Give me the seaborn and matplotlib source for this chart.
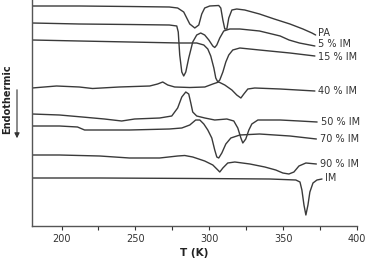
import matplotlib

matplotlib.use("Agg")

import matplotlib.pyplot as plt
import pandas as pd
import seaborn as sns

LINE_COLOR = "#3a3a3a"

# DSC traces: temperature (K) and heat flow (arb. units, endo down)
PA_T = [180, 212, 246, 273, 278.6, 282.7, 286.8, 290.2, 292.9, 294.9, 296.9, 300.3, 306.4,
        307.8, 309.2, 310.5, 311.9, 313.2, 315.3, 318.6, 324, 334, 344, 354.6, 363.4, 369.5, 372]
PA_Q = [220, 220, 219.5, 219, 218, 214, 202, 198, 201, 212, 218, 220, 220.5,
        218, 206, 197, 197, 208, 216, 217, 216, 212, 207, 202, 197, 193, 191]

IM5_T = [180, 212, 246, 273, 278, 279, 280, 281.4, 282.7, 284.1, 286.1, 288.8, 291.5, 294.2,
         296.9, 299.7, 302.4, 303.7, 305.1, 307.1, 309.8, 313.9, 320.7, 334, 348, 354, 361, 371.5]
IM5_Q = [203, 202, 201.5, 201, 200, 194, 171, 154, 150, 154, 168, 184, 191, 193,
         191, 186, 180, 178.5, 181, 188, 195, 197, 197, 195, 190, 186, 183, 180]

IM15_T = [180, 212, 246, 280, 291.5, 296.3, 299, 301, 303.1, 304.4, 305.8, 307.1, 309.2,
          311.2, 313.2, 315.9, 320.7, 334, 354.6, 371.5]
IM15_Q = [186, 185, 184, 183, 183, 181, 177, 170, 158, 148, 144, 146, 154,
          164, 171, 176, 178, 176, 173, 170]

IM40_T = [180, 196.6, 212, 221, 239, 259.7, 265, 268.5, 271.9, 276.6, 286.8, 297, 302.4,
          306.4, 310.5, 315.3, 318.6, 321.4, 323.4, 326.1, 330.8, 348, 371.5]
IM40_Q = [138, 140, 139, 137.5, 139, 140, 142, 144, 141, 139, 138.5, 139, 142,
          144, 141, 136, 131, 128, 132, 137, 138, 137, 135]

IM50_T = [180, 198.6, 214, 229, 240.7, 249.5, 266.4, 274.6, 278.6, 281.4, 284.1, 286.1, 287.5,
          288.8, 291.5, 297, 303.7, 311.9, 316.6, 319.3, 321.4, 322.7, 324.7, 326.8, 328.8,
          332.9, 348, 361, 373]
IM50_Q = [112, 111, 109, 107, 105, 107, 108, 110, 118, 129, 134, 132, 123,
          114, 110, 108, 106, 107, 105, 98, 88, 83, 87, 96, 102,
          106, 106, 105, 104]

IM70_T = [180, 198.6, 210.8, 215.6, 225.8, 246, 273, 281.4, 286.8, 290.8, 293.6, 296.3, 299,
          301.7, 303.7, 305.1, 306.4, 308.5, 311.2, 314.6, 320.7, 334, 354.6, 372.5]
IM70_Q = [100, 100, 99, 96, 96, 96, 97, 98, 101, 106, 106, 102, 96,
          88, 76, 69, 68, 73, 82, 88, 91, 92, 90, 87]

IM90_T = [180, 198.6, 225.8, 246, 266.4, 278.6, 283.4, 288.8, 296.9, 302.4, 305.8, 307.1, 309.2,
          312.5, 317.3, 327.5, 337.6, 345, 349.8, 353.9, 357.3, 360.7, 365.4, 372.5]
IM90_Q = [71, 71, 70, 68, 68, 70, 70.5, 69, 65, 61, 56, 54, 58,
          63, 64, 62, 59, 56, 53, 52, 54, 60, 63, 62]

IM_T = [180, 226, 293.6, 341, 358.6, 361.4, 362.7, 364.1, 365.4, 366.8, 368.1, 370.2, 372.9, 376.3]
IM_Q = [48, 48, 47.5, 47, 46, 44, 36, 21, 11, 21, 34, 43, 46, 47]

SAMPLES = ["PA", "5 % IM", "15 % IM", "40 % IM", "50 % IM", "70 % IM", "90 % IM", "IM"]
TRACES = [(PA_T, PA_Q), (IM5_T, IM5_Q), (IM15_T, IM15_Q), (IM40_T, IM40_Q),
          (IM50_T, IM50_Q), (IM70_T, IM70_Q), (IM90_T, IM90_Q), (IM_T, IM_Q)]

# where each curve's name sits (T, heat flow)
LABEL_T = [373.6, 373.6, 373.6, 373.6, 375.6, 374.9, 374.9, 378.3]
LABEL_Q = [193, 182, 169, 135, 104, 87, 62, 48]


def build_frame() -> pd.DataFrame:
    parts = []
    for name, (t, q) in zip(SAMPLES, TRACES):
        parts.append(pd.DataFrame({"T": t, "Q": q, "sample": name}))
    return pd.concat(parts, ignore_index=True)


def main() -> None:
    sns.set_theme(style="ticks")
    plt.rcParams["font.family"] = ["DejaVu Sans"]

    data = build_frame()

    fig = plt.figure(figsize=(3.65, 2.61), dpi=100)
    ax = fig.add_axes([32 / 365, 35 / 261, 325 / 365, 226 / 261])

    sns.lineplot(
        data=data,
        x="T",
        y="Q",
        hue="sample",
        hue_order=SAMPLES,
        palette=[LINE_COLOR] * len(SAMPLES),
        estimator=None,
        sort=False,
        legend=False,
        linewidth=1.0,
        ax=ax,
    )

    for name, lt, lq in zip(SAMPLES, LABEL_T, LABEL_Q):
        ax.text(lt, lq, name, fontsize=7, color="#333333", va="center", ha="left")

    ax.set_xlim(180, 400)
    ax.set_ylim(0, 226)
    ax.set_xticks([200, 250, 300, 350, 400])
    ax.set_xticks([225, 275, 325, 375], minor=True)
    ax.set_yticks([])
    ax.tick_params(axis="x", which="both", direction="out", length=3, width=0.8,
                   labelsize=7, colors="#333333", pad=3)
    ax.tick_params(axis="x", which="major", labelcolor="#333333")
    for side in ["top", "right"]:
        ax.spines[side].set_visible(False)
    for side in ["left", "bottom"]:
        ax.spines[side].set_color("#555555")
        ax.spines[side].set_linewidth(1.0)

    ax.set_xlabel("T (K)", fontsize=7.5, fontweight="bold", color="#222222", labelpad=3)
    ax.set_ylabel("")

    fig.text(7 / 365, 1 - 99 / 261, "Endothermic", rotation=90, fontsize=7,
             fontweight="bold", color="#222222", ha="center", va="center")
    fig.add_artist(
        matplotlib.patches.FancyArrowPatch(
            (17 / 365, 1 - 87 / 261),
            (17 / 365, 1 - 141 / 261),
            transform=fig.transFigure,
            arrowstyle="-|>,head_length=3,head_width=1.5",
            color="#333333",
            linewidth=0.8,
        )
    )

    fig.savefig("out.png", dpi=100)
    plt.close(fig)


if __name__ == "__main__":
    main()
